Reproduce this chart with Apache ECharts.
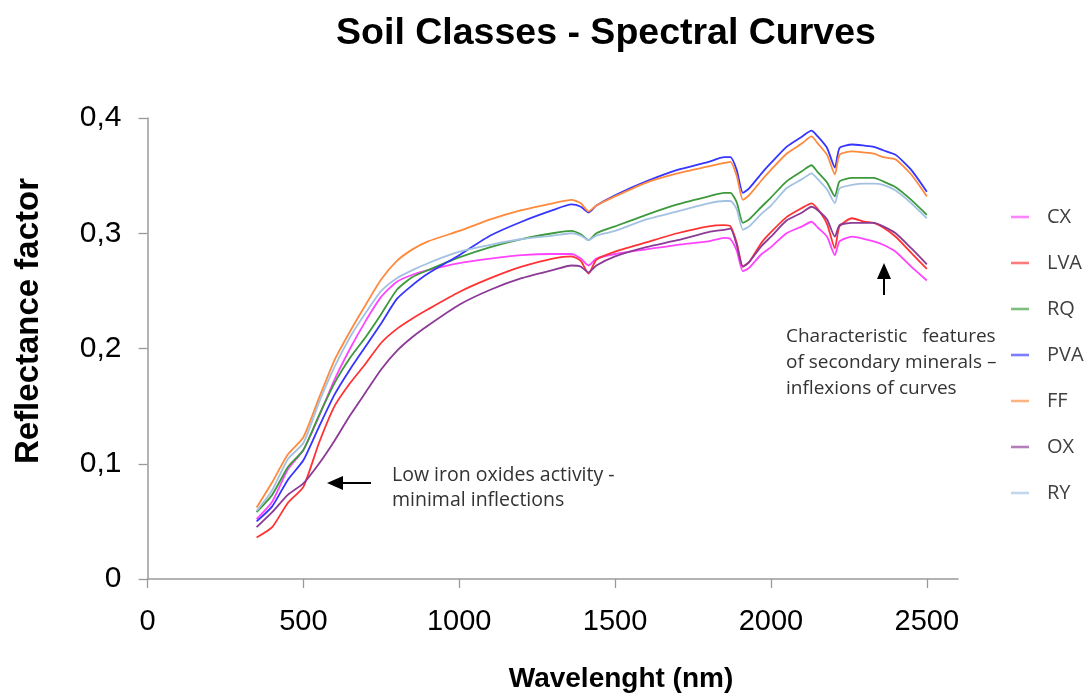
<!DOCTYPE html>
<html>
<head>
<meta charset="utf-8">
<script src="https://cdn.jsdelivr.net/npm/echarts@6/dist/echarts.min.js"></script>
<style>html,body{margin:0;padding:0;background:#fff}#chart{width:1089px;height:697px}</style>
</head>
<body>
<div id="chart"></div>
<script>
const wavelengths = [350,400,450,500,550,600,650,700,750,800,850,900,1000,1100,1200,1300,1360,1390,1415,1440,1500,1600,1700,1800,1850,1870,1890,1910,1930,1970,2000,2050,2100,2130,2150,2180,2205,2220,2260,2300,2330,2360,2400,2450,2500];
const xTicks = [0,500,1000,1500,2000,2500];
const seriesNames = ['CX','LVA','RQ','PVA','FF','OX','RY'];
const CX  = [0.052,0.067,0.095,0.112,0.141,0.173,0.200,0.224,0.245,0.258,0.264,0.268,0.274,0.278,0.281,0.282,0.282,0.278,0.272,0.278,0.282,0.286,0.290,0.293,0.296,0.295,0.285,0.267,0.270,0.282,0.288,0.300,0.306,0.310,0.305,0.297,0.281,0.293,0.297,0.295,0.293,0.290,0.284,0.271,0.259];
const LVA = [0.036,0.045,0.066,0.080,0.118,0.150,0.170,0.187,0.205,0.217,0.226,0.234,0.249,0.261,0.271,0.278,0.280,0.276,0.265,0.277,0.284,0.292,0.300,0.306,0.307,0.306,0.292,0.271,0.275,0.292,0.301,0.314,0.322,0.326,0.321,0.308,0.287,0.306,0.313,0.310,0.309,0.305,0.297,0.283,0.269];
const RQ  = [0.058,0.073,0.097,0.112,0.142,0.170,0.192,0.210,0.230,0.251,0.262,0.268,0.279,0.288,0.295,0.300,0.302,0.299,0.294,0.300,0.306,0.316,0.325,0.332,0.335,0.335,0.327,0.309,0.312,0.323,0.331,0.345,0.354,0.359,0.353,0.344,0.332,0.345,0.348,0.348,0.348,0.345,0.340,0.329,0.316];
const PVA = [0.050,0.063,0.086,0.103,0.132,0.160,0.182,0.202,0.222,0.243,0.255,0.265,0.281,0.298,0.310,0.320,0.325,0.323,0.318,0.324,0.333,0.345,0.355,0.362,0.366,0.366,0.355,0.335,0.339,0.352,0.361,0.375,0.384,0.389,0.384,0.374,0.357,0.374,0.377,0.376,0.375,0.372,0.368,0.355,0.336];
const FF  = [0.062,0.084,0.108,0.123,0.157,0.190,0.215,0.238,0.260,0.276,0.286,0.293,0.302,0.312,0.320,0.326,0.329,0.326,0.319,0.324,0.332,0.344,0.352,0.358,0.361,0.362,0.350,0.329,0.333,0.346,0.355,0.369,0.378,0.384,0.378,0.368,0.351,0.368,0.371,0.370,0.369,0.366,0.364,0.351,0.332];
const OX  = [0.045,0.058,0.073,0.083,0.100,0.120,0.142,0.162,0.182,0.198,0.210,0.220,0.238,0.251,0.261,0.268,0.272,0.271,0.266,0.272,0.280,0.288,0.294,0.301,0.303,0.304,0.290,0.271,0.275,0.289,0.297,0.311,0.318,0.323,0.320,0.312,0.297,0.307,0.309,0.309,0.309,0.306,0.300,0.287,0.273];
const RY  = [0.059,0.077,0.104,0.118,0.153,0.184,0.210,0.231,0.250,0.261,0.268,0.274,0.284,0.290,0.295,0.298,0.300,0.298,0.294,0.298,0.302,0.312,0.319,0.326,0.328,0.328,0.321,0.303,0.306,0.317,0.324,0.339,0.347,0.352,0.347,0.338,0.326,0.339,0.342,0.343,0.343,0.342,0.337,0.326,0.313];
const seriesValues = [CX, LVA, RQ, PVA, FF, OX, RY];
const colors = ['#ff44ff','#ff3333','#3c9a3c','#3535ff','#ff8a3d','#8b3a96','#a3c2e2'];

const tickFont = "'Liberation Sans',Arial,sans-serif";
const chart = echarts.init(document.getElementById('chart'));
chart.setOption({
  animation: false,
  backgroundColor: '#ffffff',
  title: {
    text: 'Soil Classes - Spectral Curves',
    left: 601, top: 10, textAlign: 'center',
    textStyle: { fontFamily: "'Liberation Sans',Arial,sans-serif", fontWeight: 'bold', fontSize: 37.5, color: '#000' }
  },
  legend: {
    orient: 'vertical', left: 1006, top: 202,
    itemWidth: 18, itemHeight: 16, itemGap: 26,
    icon: 'path://M0,0L18,0L18,2.6L0,2.6Z',
    itemStyle: { opacity: 0.65 },
    textStyle: { fontFamily: "'Open Sans','Noto Sans',sans-serif", fontSize: 20, color: '#404040', lineHeight: 19, padding: [0,0,0,13] },
    data: seriesNames
  },
  grid: { left: 147.5, right: 131, top: 118, bottom: 118, containLabel: false },
  xAxis: {
    type: 'value', min: 0, max: 2600, interval: 500,
    splitLine: { show: false },
    axisLine: { show: true, onZero: false, lineStyle: { color: '#9a9a9a', width: 1.5 } },
    axisTick: { show: true, length: 9, customValues: xTicks, lineStyle: { color: '#9a9a9a', width: 1.3 } },
    axisLabel: { customValues: xTicks, margin: 28, fontFamily: tickFont, fontSize: 29, color: '#000',
      formatter: v => String(v) }
  },
  yAxis: {
    type: 'value', min: 0, max: 0.4, interval: 0.1,
    splitLine: { show: false },
    axisLine: { show: true, lineStyle: { color: '#9a9a9a', width: 1.5 } },
    axisTick: { show: true, length: 9, lineStyle: { color: '#9a9a9a', width: 1.3 } },
    axisLabel: { margin: 26, fontFamily: tickFont, fontSize: 30, color: '#000',
      formatter: v => v === 0 ? '0' : v.toFixed(1).replace('.', ',') }
  },
  series: seriesNames.map((name, i) => ({
    name, type: 'line', symbol: 'none', smooth: 0.2,
    color: colors[i],
    lineStyle: { width: 1.8, color: colors[i] },
    data: wavelengths.map((w, j) => [w, seriesValues[i][j]])
  })),
  graphic: [
    { type: 'text', x: 29, y: 321, rotation: Math.PI / 2,
      style: { text: 'Reflectance factor', font: "bold 33px 'Liberation Sans', Arial, sans-serif", fill: '#000', textAlign: 'center', textVerticalAlign: 'middle' } },
    { type: 'text', x: 621, y: 679,
      style: { text: 'Wavelenght (nm)', font: "bold 28px 'Liberation Sans', Arial, sans-serif", fill: '#000', textAlign: 'center', textVerticalAlign: 'middle' } },
    { type: 'line', shape: { x1: 371, y1: 483, x2: 340, y2: 483 }, style: { stroke: '#000', lineWidth: 2 } },
    { type: 'polygon', shape: { points: [[327, 483], [343, 476], [343, 490]] }, style: { fill: '#000' } },
    { type: 'line', shape: { x1: 884, y1: 295, x2: 884, y2: 275 }, style: { stroke: '#000', lineWidth: 2 } },
    { type: 'polygon', shape: { points: [[884, 263], [877, 279], [891, 279]] }, style: { fill: '#000' } },
    { type: 'text', x: 392, y: 463,
      style: { text: 'Low iron oxides activity -\nminimal inflections', font: "19.5px 'Open Sans', 'Noto Sans', sans-serif", fill: '#333', lineHeight: 25 } },
    { type: 'text', x: 786, y: 324,
      style: { text: 'Characteristic   features\nof secondary minerals \u2013\ninflexions of curves', font: "19px 'Open Sans', 'Noto Sans', sans-serif", fill: '#333', lineHeight: 26 } }
  ]
});
</script>
</body>
</html>
